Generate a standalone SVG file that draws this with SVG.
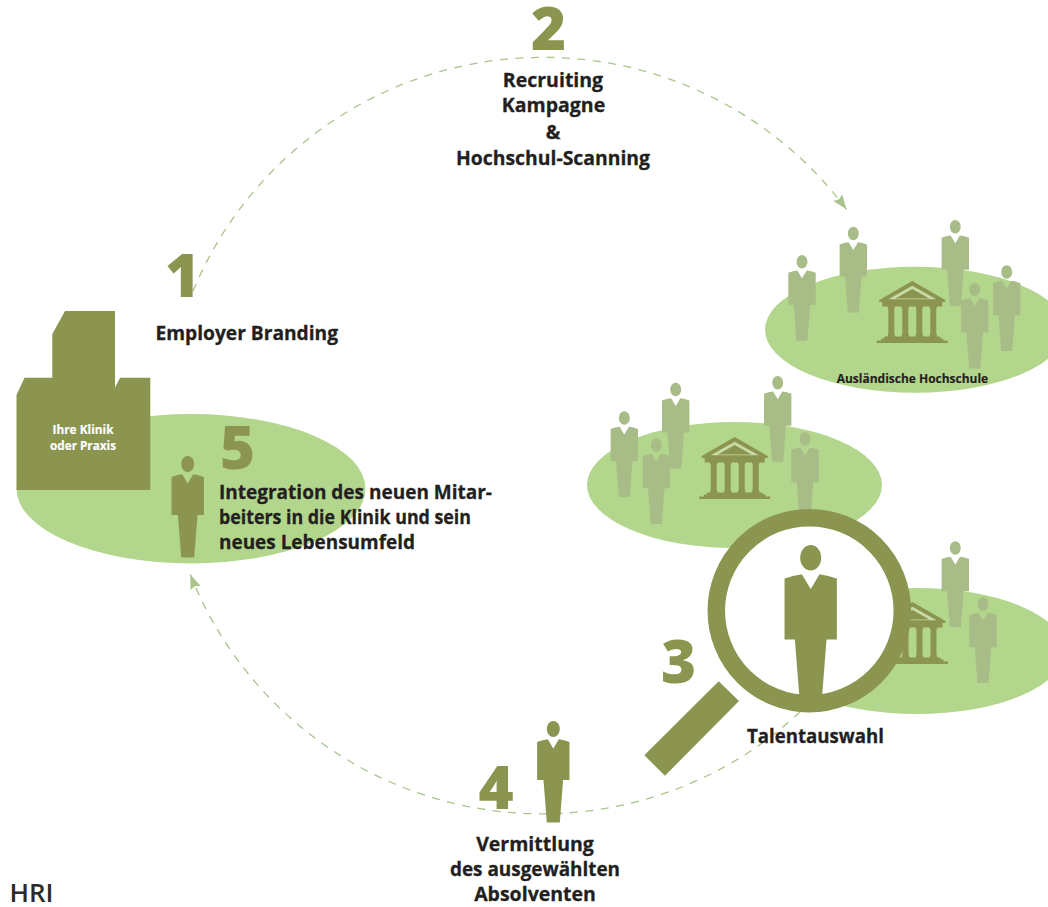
<svg xmlns="http://www.w3.org/2000/svg" width="1048" height="907" viewBox="0 0 1048 907">
<style>
text{font-family:"Open Sans","Noto Sans","Liberation Sans",sans-serif;font-weight:700;fill:#231f20}
.lb{font-size:19.5px;stroke:#231f20;stroke-width:.3px}
.sm{font-size:11.5px;stroke:#231f20;stroke-width:.15px}
.kl{font-size:11.5px;fill:#fff;text-anchor:middle;stroke:#fff;stroke-width:.15px}
.num{font-size:60px;font-weight:800;fill:#8c954f;text-anchor:middle}
.ell{fill:#b3d68d}
.ol{fill:#8c954f}
.lt{fill:#a8bc88}
.dash{fill:none;stroke:#a9c48c;stroke-width:1.3;stroke-dasharray:8 7.5}
</style>
<defs>
<g id="person">
<ellipse cx="0" cy="8" rx="6.5" ry="8"/>
<path d="M-16.2 21Q-11 19-5.500 18.300L0 27.500 5.500 18.300Q11 19 16.200 21V59H9.800L6.500 101.500H-6.500L-9.800 59H-16.200Z"/>
</g>
<g id="temple">
<path d="M0 0L33 19V21H-33V19Z"/>
<path d="M0 4.700L24 18.300H-24Z" fill="#c8dca8"/>
<path d="M0 8L17 17.500H-17Z"/>
<path d="M-30 21H30V25.500H-30Z"/>
<path d="M-25 25H-17L-18 28V52L-17 56H-25L-24 52V28ZM-11 25H-3L-4 28V52L-3 56H-11L-10 52V28ZM3 25H11L10 28V52L11 56H3L4 52V28ZM17 25H25L24 28V52L25 56H17L18 52V28Z"/>
<path d="M-28 55.500H28V57.500H31V59.500H35.500V62H-35.500V59.500H-31V57.500H-28Z"/>
</g>
<marker id="arrow" markerUnits="userSpaceOnUse" markerWidth="16" markerHeight="13" refX="14.500" refY="6" orient="auto">
<path d="M0 .5L14.500 6 0 11.500 2 6Z" fill="#a9c48c"/>
</marker>
</defs>

<g id="connectors">
<path class="dash" marker-end="url(#arrow)" d="M193 291A379 379 0 0 1 846.500 209.300"/>
<path class="dash" marker-end="url(#arrow)" d="M800 712A378 378 0 0 1 190.300 574.500"/>
</g>

<g id="hochschule-1">
<ellipse class="ell" cx="915" cy="329.700" rx="150" ry="63"/>
<use href="#temple" class="ol" transform="translate(912.300 281)"/>
<use href="#person" class="lt" transform="translate(802 255) scale(.845)"/>
<use href="#person" class="lt" transform="translate(853.300 226.700) scale(.845)"/>
<use href="#person" class="lt" transform="translate(955.300 220) scale(.845)"/>
<use href="#person" class="lt" transform="translate(1006.700 265.300) scale(.845)"/>
<use href="#person" class="lt" transform="translate(974.700 282.700) scale(.845)"/>
<text class="sm" x="836.700" y="383" textLength="151.500" lengthAdjust="spacingAndGlyphs">Ausländische Hochschule</text>
</g>

<g id="hochschule-2">
<ellipse class="ell" cx="734.500" cy="485" rx="147.500" ry="63"/>
<use href="#temple" class="ol" transform="translate(734.700 437)"/>
<use href="#person" class="lt" transform="translate(624.300 411.300) scale(.845)"/>
<use href="#person" class="lt" transform="translate(675.700 382.700) scale(.845)"/>
<use href="#person" class="lt" transform="translate(656.300 438.300) scale(.845)"/>
<use href="#person" class="lt" transform="translate(777.700 376) scale(.845)"/>
<use href="#person" class="lt" transform="translate(805 432.300) scale(.845)"/>
</g>

<g id="hochschule-3">
<ellipse class="ell" cx="916.700" cy="651" rx="148" ry="63"/>
<use href="#temple" class="ol" transform="translate(912.500 602)"/>
<use href="#person" class="lt" transform="translate(955.300 541.300) scale(.845)"/>
<use href="#person" class="lt" transform="translate(983 597.300) scale(.845)"/>
</g>

<g id="lupe">
<circle cx="809.300" cy="610.700" r="93" fill="#fff" stroke="#8c954f" stroke-width="17.500"/>
<path class="ol" d="M718.700 681.300L739 701 665 775.700 644.300 755.300Z"/>
<use href="#person" class="ol" transform="translate(810.700 545) scale(1.615 1.6)"/>
</g>

<g id="klinik">
<ellipse class="ell" cx="191" cy="488.700" rx="174.500" ry="74.700"/>
<path class="ol" d="M16.500 490V395L24.500 377.700H52.300V334L65 311H115V387.700L120 377.700H150.300V490Z"/>
<text class="kl" x="83" y="434" textLength="61" lengthAdjust="spacingAndGlyphs">Ihre Klinik</text>
<text class="kl" x="83" y="450" textLength="66" lengthAdjust="spacingAndGlyphs">oder Praxis</text>
<use href="#person" class="ol" transform="translate(187.700 456)"/>
</g>

<g id="step-1">
<text class="num" x="182.500" y="297">1</text>
<text class="lb" x="155.500" y="340" textLength="182.500" lengthAdjust="spacingAndGlyphs">Employer Branding</text>
</g>
<g id="step-2">
<text class="num" x="548.500" y="50">2</text>
<text class="lb" x="553" y="87" text-anchor="middle">Recruiting</text>
<text class="lb" x="553.500" y="112" text-anchor="middle">Kampagne</text>
<text class="lb" x="553" y="139" text-anchor="middle">&amp;</text>
<text class="lb" x="456" y="165" textLength="194" lengthAdjust="spacingAndGlyphs">Hochschul-Scanning</text>
</g>
<g id="step-3">
<text class="num" x="678.500" y="683">3</text>
<text class="lb" x="747" y="743" textLength="137" lengthAdjust="spacingAndGlyphs">Talentauswahl</text>
</g>
<g id="step-4">
<text class="num" x="496" y="809">4</text>
<use href="#person" class="ol" transform="translate(553.300 721)"/>
<text class="lb" x="535" y="851" text-anchor="middle">Vermittlung</text>
<text class="lb" x="450" y="876" textLength="170" lengthAdjust="spacingAndGlyphs">des ausgewählten</text>
<text class="lb" x="535" y="901" text-anchor="middle">Absolventen</text>
</g>
<g id="step-5">
<text class="num" x="237.500" y="469">5</text>
<text class="lb" x="219" y="499" textLength="273" lengthAdjust="spacingAndGlyphs">Integration des neuen Mitar-</text>
<text class="lb" x="219" y="524" textLength="252" lengthAdjust="spacingAndGlyphs">beiters in die Klinik und sein</text>
<text class="lb" x="219" y="549" textLength="196" lengthAdjust="spacingAndGlyphs">neues Lebensumfeld</text>
</g>
<text id="hri" x="9.500" y="902" textLength="44" lengthAdjust="spacingAndGlyphs" style="font-size:25.500px;font-weight:600;fill:#2b2b2b">HRI</text>
</svg>
